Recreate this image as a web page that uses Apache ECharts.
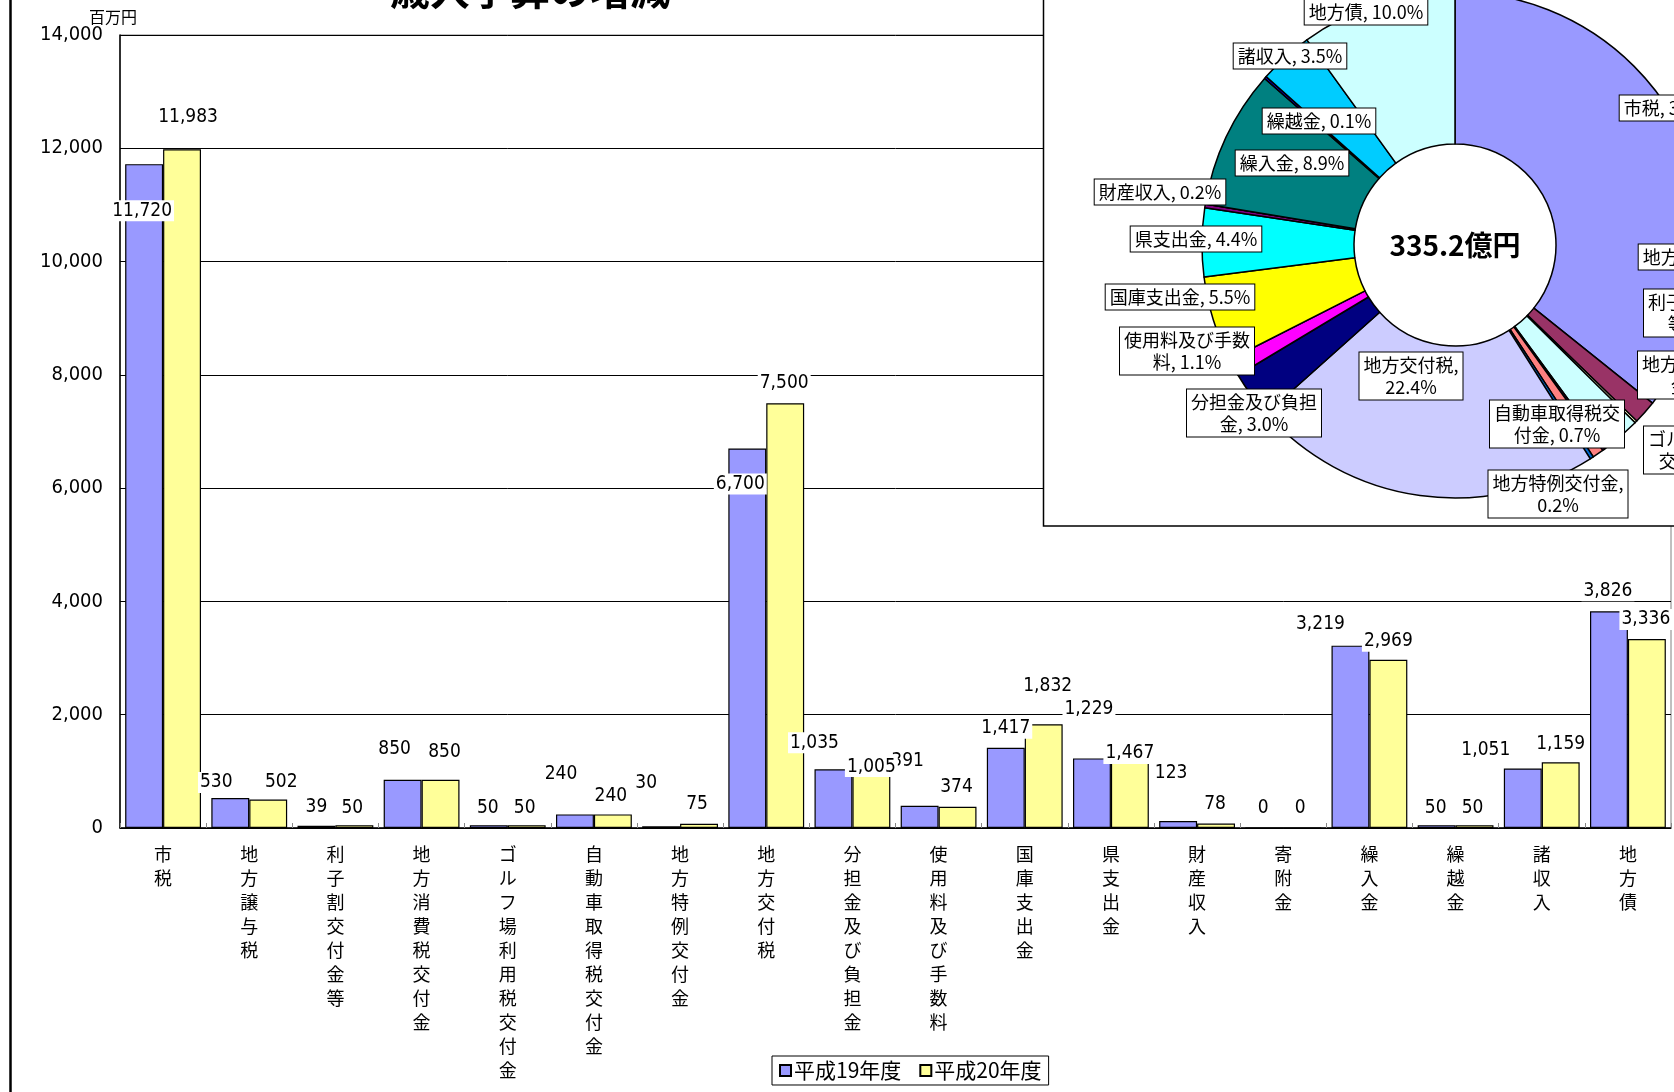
<!DOCTYPE html>
<html><head><meta charset="utf-8">
<script src="https://cdn.jsdelivr.net/npm/echarts@6/dist/echarts.min.js"></script>
<style>html,body{margin:0;padding:0;background:#fff}#c{width:1674px;height:1092px}</style>
</head><body><div id="c"></div>
<script>
// ---- data ----
const categories = ['市税','地方譲与税','利子割交付金等','地方消費税交付金','ゴルフ場利用税交付金','自動車取得税交付金','地方特例交付金','地方交付税','分担金及び負担金','使用料及び手数料','国庫支出金','県支出金','財産収入','寄附金','繰入金','繰越金','諸収入','地方債'];
const seriesNames = ['平成19年度','平成20年度'];
const valuesH19 = [11720,530,39,850,50,240,30,6700,1035,391,1417,1229,123,0,3219,50,1051,3826];
const valuesH20 = [11983,502,50,850,50,240,75,7500,1005,374,1832,1467,78,0,2969,50,1159,3336];
const yMin = 0, yMax = 14000, yInterval = 2000;
const titleText = '歳入予算の増減';
const unitText = '百万円';
const pieCenterText = '335.2億円';

// ---- style / layout (not data) ----
const barColors = ['#9999FF','#FFFF99'];
const pieColors = ['#9999FF','#993366','#FFFFCC','#CCFFFF','#660066','#FF8080','#0066CC','#CCCCFF','#000080','#FF00FF','#FFFF00','#00FFFF','#800080','#800000','#008080','#0000FF','#00CCFF','#CCFFFF'];
const labelOffA = [[-2,57],[-14,-5],[0,-8],[-8,-20],[-1,-7],[-14,-30],[-15,-33],[-7,46],[-19,-16],[-12,-34],[0,-9],[-3,-39],[-7,-37],[-1,-9],[-30,-11],[-1,-7],[-37,-8],[-1,-10]];
const labelOffB = [[6,-22],[13,-7],[-2,-7],[4,-17],[-2,-7],[-2,-8],[-2,-9],[-1,-10],[0,6],[-1,-9],[4,-28],[0,19],[-1,-9],[-2,-9],[0,-8],[-2,-7],[0,-8],[-1,-9]];
const pieCx = 1455, pieCy = 245;
const pieLabelPos = [[217,-137],[258,12],[247,68],[250,130],[256,205],[102,179],[103,249],[-44,131],[-201,168],[-268,106],[-275,52],[-259,-6],[-295,-53],[0,0],[-163,-82],[-136,-124],[-165,-189],[-89,-233]];
const pieWrap = {'利子割交付金等':6,'地方消費税交付金':7,'ゴルフ場利用税交付金':7,'自動車取得税交付金':7,'地方特例交付金':8,'地方交付税':6,'分担金及び負担金':7,'使用料及び手数料':7};

const numFont = '"Liberation Sans Narrow","Arial Narrow","DejaVu Sans Condensed","Noto Sans CJK JP",sans-serif';
const jpFont = '"Liberation Sans Narrow","Noto Sans CJK JP",sans-serif';
const fmt = v => v.toLocaleString('en-US');

const pieTotal = valuesH20.reduce((a,b)=>a+b,0);
const pieData = categories.map((n,i)=>({
  name:n, value:valuesH20[i],
  itemStyle:{color:pieColors[i]},
  label:{show: valuesH20[i] > 0}
}));

function barData(vals, offs){
  return vals.map((v,i)=>({value:v, label:{offset:offs[i]}}));
}
const barLabel = {
  show:true, position:'top', distance:0,
  formatter: p => fmt(p.value),
  fontFamily:numFont, fontSize:19, lineHeight:19, color:'#000',
  backgroundColor:'#fff', padding:[1,2]
};

const chart = echarts.init(document.getElementById('c'), null, {renderer:'canvas'});
chart.setOption({
  animation:false,
  backgroundColor:'#fff',
  grid:{left:120, right:3, top:35, bottom:264, show:true, borderColor:'#808080', borderWidth:1, backgroundColor:'transparent'},
  legend:{
    data:seriesNames, left:772, top:1056, orient:'horizontal',
    itemWidth:11, itemHeight:11, itemGap:18,
    borderColor:'#000', borderWidth:1, padding:[4,7], backgroundColor:'#fff',
    textStyle:{fontFamily:jpFont, fontSize:21, color:'#000', padding:[0,0,0,-2]},
    icon:'rect'
  },
  xAxis:{
    type:'category', data:categories,
    axisLine:{lineStyle:{color:'#000', width:1.5}},
    axisTick:{show:true, inside:true, length:5, interval:0, lineStyle:{color:'#888'}},
    axisLabel:{interval:0, margin:14, fontFamily:'"Noto Sans CJK JP",sans-serif', fontSize:18, lineHeight:24, color:'#000',
      formatter: v => v.split('').join('\n'), verticalAlign:'top'}
  },
  yAxis:{
    type:'value', min:yMin, max:yMax, interval:yInterval,
    name:unitText, nameLocation:'end', nameGap:8,
    nameTextStyle:{fontFamily:'"Noto Sans CJK JP",sans-serif', fontSize:16, color:'#000', align:'center', padding:[0,14,0,0]},
    axisLine:{show:true, lineStyle:{color:'#000', width:1.5}},
    axisTick:{show:true, inside:true, length:5, lineStyle:{color:'#000'}},
    axisLabel:{margin:17, fontFamily:numFont, fontSize:20, color:'#000', formatter: v => fmt(v)},
    splitLine:{show:true, lineStyle:{color:'#000', width:1}}
  },
  graphic:[
    {type:'line', shape:{x1:10.5,y1:0,x2:10.5,y2:1092}, style:{stroke:'#000', lineWidth:2.5}, z:1},
    {type:'rect', shape:{x:1043.5,y:-10,width:700,height:536}, style:{fill:'#fff', stroke:'#000', lineWidth:1.5}, z:5},
    {type:'text', x:530, y:-10, style:{text:titleText, font:'bold 40px "Noto Sans CJK JP", sans-serif', fill:'#000', align:'center', verticalAlign:'middle'}, z:6},
    {type:'text', x:pieCx, y:pieCy, style:{text:pieCenterText, font:'bold 28px "Liberation Sans Narrow","Noto Sans CJK JP", sans-serif', fill:'#000', align:'center', verticalAlign:'middle'}, z:20}
  ],
  series:[
    {name:seriesNames[0], type:'bar', data:barData(valuesH19,labelOffA), barGap:'0%', barCategoryGap:'12%',
      itemStyle:{color:barColors[0], borderColor:'#000', borderWidth:1.2}, label:barLabel, z:2},
    {name:seriesNames[1], type:'bar', data:barData(valuesH20,labelOffB), barGap:'0%', barCategoryGap:'12%',
      itemStyle:{color:barColors[1], borderColor:'#000', borderWidth:1.2}, label:barLabel, z:2},
    {name:'構成比', type:'pie', center:[pieCx,pieCy], radius:[101,253], startAngle:90, clockwise:true,
      z:10, legendHoverLink:false, avoidLabelOverlap:false,
      data:pieData,
      itemStyle:{borderColor:'#000', borderWidth:1.5},
      labelLine:{show:false},
      label:{position:'inside', color:'#000', fontFamily:jpFont, fontSize:18, lineHeight:22,
        backgroundColor:'#fff', borderColor:'#000', borderWidth:1, padding:[2,4,1,4], align:'center',
        formatter: p => {
          const pct = (p.value / pieTotal * 100).toFixed(1);
          const full = p.name + ', ' + pct + '%';
          const n = pieWrap[p.name];
          return n ? full.slice(0,n) + '\n' + full.slice(n).trim() : full;
        }},
      labelLayout: params => {
        const d = pieLabelPos[params.dataIndex];
        return {x: pieCx + d[0], y: pieCy + d[1], align:'center', verticalAlign:'middle', hideOverlap:false};
      },
      emphasis:{disabled:true}
    }
  ]
});
</script></body></html>
